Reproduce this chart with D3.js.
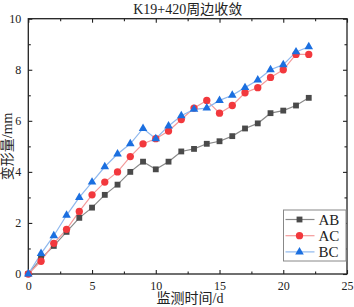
<!DOCTYPE html>
<html>
<head>
<meta charset="utf-8">
<script src="https://cdn.jsdelivr.net/npm/d3@7"></script>
<style>
  body { margin: 0; background: #fff; }
  svg text { font-family: "Liberation Serif", "Noto Sans CJK SC", serif; fill: #222; }
</style>
</head>
<body>
<div id="chart"></div>
<script>
// data
const days = d3.range(0, 23);
const abValues = [0, 0.6, 1.1, 1.65, 2.2, 2.6, 3.1, 3.5, 4.0, 4.4, 4.1, 4.4, 4.8, 4.9, 5.1, 5.2, 5.4, 5.7, 5.9, 6.3, 6.4, 6.6, 6.9];
const acValues = [0, 0.5, 1.2, 1.75, 2.45, 3.1, 3.6, 4.0, 4.6, 5.1, 5.3, 5.6, 6.05, 6.5, 6.8, 6.3, 6.6, 7.1, 7.3, 7.7, 8.0, 8.6, 8.6];
const bcValues = [0, 0.8, 1.5, 2.3, 3.0, 3.6, 4.2, 4.7, 5.1, 5.7, 5.3, 5.8, 6.2, 6.45, 6.5, 6.8, 7.0, 7.3, 7.6, 8.0, 8.2, 8.7, 8.9];
const xTicks = [0, 5, 10, 15, 20, 25];
const yTicks = [0, 2, 4, 6, 8, 10];

const series = [
  { name: "AB", values: abValues, shape: d3.symbolSquare, size: 34, fill: "#4a4a4a", line: "#8a8a8a" },
  { name: "AC", values: acValues, shape: d3.symbolCircle, size: 42, fill: "#f2383d", line: "#f49a9a" },
  { name: "BC", values: bcValues, shape: d3.symbolTriangle, size: 32, fill: "#1b6fe0", line: "#8fb8ee" }
];

const width = 354, height = 307;
const margin = { top: 18.7, right: 7, bottom: 33, left: 28.3 };

const svg = d3.select("#chart").append("svg")
  .attr("width", width)
  .attr("height", height);

const x = d3.scaleLinear().domain([0, 25]).range([margin.left, width - margin.right]);
const y = d3.scaleLinear().domain([0, 10]).range([height - margin.bottom, margin.top]);

// ticks (inward on all four sides)
const minorX = d3.range(2.5, 25, 5);
const minorY = d3.range(1, 10, 2);

svg.append("g")
  .attr("transform", `translate(0,${y(0)})`)
  .call(d3.axisBottom(x).tickValues(xTicks).tickSize(-4).tickPadding(7))
  .call(g => g.select(".domain").remove())
  .call(g => g.selectAll("text").style("font-size", "12px").attr("dy", "0.71em"));
svg.append("g")
  .attr("transform", `translate(0,${y(0)})`)
  .call(d3.axisBottom(x).tickValues(minorX).tickSize(-2.5).tickFormat(""))
  .call(g => g.select(".domain").remove());

svg.append("g")
  .attr("transform", `translate(0,${y(10)})`)
  .call(d3.axisTop(x).tickValues(xTicks).tickSize(-4).tickFormat(""))
  .call(g => g.select(".domain").remove());
svg.append("g")
  .attr("transform", `translate(0,${y(10)})`)
  .call(d3.axisTop(x).tickValues(minorX).tickSize(-2.5).tickFormat(""))
  .call(g => g.select(".domain").remove());

svg.append("g")
  .attr("transform", `translate(${x(0)},0)`)
  .call(d3.axisLeft(y).tickValues(yTicks).tickSize(-4).tickPadding(7))
  .call(g => g.select(".domain").remove())
  .call(g => g.selectAll("text").style("font-size", "12px"));
svg.append("g")
  .attr("transform", `translate(${x(0)},0)`)
  .call(d3.axisLeft(y).tickValues(minorY).tickSize(-2.5).tickFormat(""))
  .call(g => g.select(".domain").remove());

svg.append("g")
  .attr("transform", `translate(${x(25)},0)`)
  .call(d3.axisRight(y).tickValues(yTicks).tickSize(-4).tickFormat(""))
  .call(g => g.select(".domain").remove());
svg.append("g")
  .attr("transform", `translate(${x(25)},0)`)
  .call(d3.axisRight(y).tickValues(minorY).tickSize(-2.5).tickFormat(""))
  .call(g => g.select(".domain").remove());

svg.selectAll(".tick line").attr("stroke", "#222").attr("stroke-width", 1.1);

// frame
svg.append("rect")
  .attr("x", x(0)).attr("y", y(10))
  .attr("width", x(25) - x(0)).attr("height", y(0) - y(10))
  .attr("fill", "none").attr("stroke", "#222").attr("stroke-width", 1.3);

// lines + markers
const line = d3.line().x((d, i) => x(days[i])).y(d => y(d));

series.forEach(s => {
  svg.append("path")
    .datum(s.values)
    .attr("d", line)
    .attr("fill", "none")
    .attr("stroke", s.line)
    .attr("stroke-width", 1.2);
});
series.forEach(s => {
  svg.append("g").selectAll("path")
    .data(s.values)
    .join("path")
    .attr("transform", (d, i) => `translate(${x(days[i])},${y(d)})`)
    .attr("d", d3.symbol().type(s.shape).size(s.size))
    .attr("fill", s.fill);
});

// legend
const legend = svg.append("g").attr("transform", "translate(283.5,210)");
legend.append("rect")
  .attr("width", 62.5).attr("height", 51)
  .attr("fill", "#fff").attr("stroke", "#888").attr("stroke-width", 1);
series.forEach((s, i) => {
  const ly = 9.5 + i * 16.2;
  legend.append("line")
    .attr("x1", 2).attr("x2", 31).attr("y1", ly).attr("y2", ly)
    .attr("stroke", s.line).attr("stroke-width", 1.2);
  legend.append("path")
    .attr("transform", `translate(16,${ly})`)
    .attr("d", d3.symbol().type(s.shape).size(s.size))
    .attr("fill", s.fill);
  legend.append("text")
    .attr("x", 35).attr("y", ly)
    .attr("dy", "0.35em")
    .style("font-size", "15px")
    .text(s.name);
});

// title and axis labels
svg.append("text")
  .attr("x", (x(0) + x(25)) / 2).attr("y", 14)
  .attr("text-anchor", "middle")
  .style("font-size", "14px")
  .text("K19+420周边收敛");

svg.append("text")
  .attr("x", 190).attr("y", 303)
  .attr("text-anchor", "middle")
  .style("font-size", "14px")
  .text("监测时间/d");

svg.append("text")
  .attr("transform", `translate(12,${(y(0) + y(10)) / 2}) rotate(-90)`)
  .attr("text-anchor", "middle")
  .style("font-size", "14px")
  .text("变形量/mm");
</script>
</body>
</html>
